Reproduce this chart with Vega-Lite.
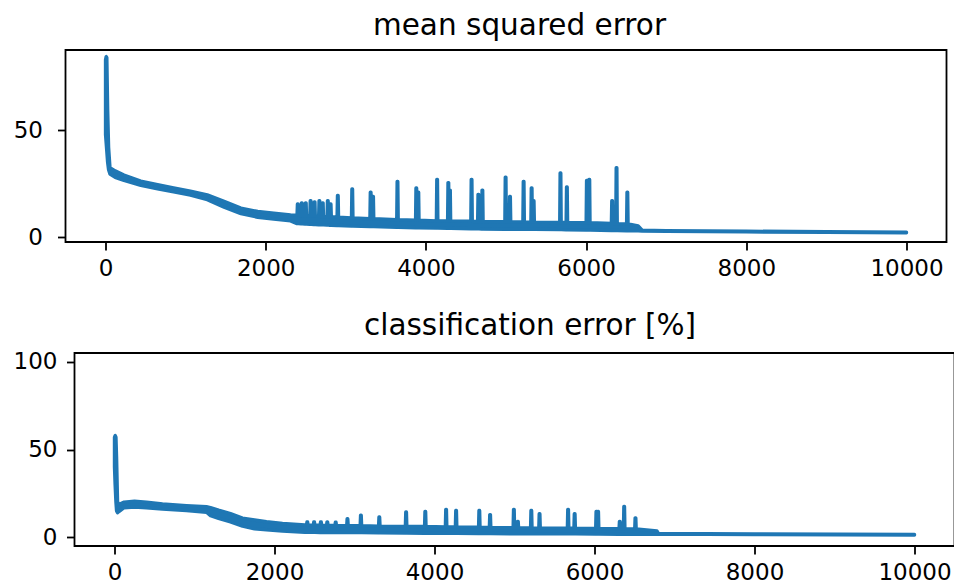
{
"$schema": "https://vega.github.io/schema/vega-lite/v6.json",
"background": "white",
"padding": {"left": 10.5, "top": 9, "right": 0, "bottom": 0},
"spacing": 29,
"config": {
  "view": {"stroke": "#000000", "strokeWidth": 1.8},
  "axis": {"labelFont": "DejaVu Sans", "labelFontSize": 23, "labelColor": "#000000", "tickColor": "#000000", "tickSize": 8, "tickWidth": 1.8, "domain": false, "grid": false, "labelFlush": false, "labelOverlap": false, "labelBound": false, "title": null},
  "title": {"font": "DejaVu Sans", "fontSize": 29.5, "fontWeight": "normal", "color": "#000000", "anchor": "middle", "frame": "group", "baseline": "alphabetic", "offset": 9}
},
"datasets": {
  "mse": [
    {"x":0,"lo":48,"hi":83},{"x":8,"lo":44,"hi":84.5},{"x":16,"lo":40,"hi":84},{"x":26,"lo":35,"hi":60},{"x":38,"lo":31.5,"hi":42},{"x":55,"lo":29.5,"hi":32.5},{"x":120,"lo":28,"hi":31},{"x":230,"lo":26.5,"hi":29},{"x":440,"lo":24.2,"hi":26.2},{"x":650,"lo":22.6,"hi":24.6},{"x":850,"lo":21.2,"hi":23},{"x":1060,"lo":19.7,"hi":21.5},{"x":1270,"lo":17.5,"hi":19.8},{"x":1480,"lo":14,"hi":16.8},{"x":1690,"lo":11,"hi":13.6},{"x":1900,"lo":9.3,"hi":12},{"x":2100,"lo":8.4,"hi":11.2},{"x":2310,"lo":7.6,"hi":10.4},
    {"x":2391,"lo":6.3,"hi":10.2},{"x":2396,"lo":6.3,"hi":15.5},{"x":2404,"lo":6.3,"hi":15.5},{"x":2409,"lo":6.3,"hi":10.2},
    {"x":2441,"lo":6.2,"hi":10.1},{"x":2446,"lo":6.2,"hi":16},{"x":2454,"lo":6.2,"hi":16},{"x":2459,"lo":6.2,"hi":10.1},
    {"x":2491,"lo":6.1,"hi":10},{"x":2496,"lo":6.1,"hi":16},{"x":2504,"lo":6.1,"hi":16},{"x":2509,"lo":6.1,"hi":10},
    {"x":2551,"lo":6,"hi":9.9},{"x":2556,"lo":6,"hi":17},{"x":2564,"lo":6,"hi":17},{"x":2569,"lo":6,"hi":9.9},
    {"x":2601,"lo":5.9,"hi":9.8},{"x":2606,"lo":5.9,"hi":16.5},{"x":2614,"lo":5.9,"hi":16.5},{"x":2619,"lo":5.9,"hi":9.8},
    {"x":2661,"lo":5.8,"hi":9.7},{"x":2666,"lo":5.8,"hi":17},{"x":2674,"lo":5.8,"hi":17},{"x":2679,"lo":5.8,"hi":9.7},
    {"x":2703,"lo":5.7,"hi":9.6},{"x":2708,"lo":5.7,"hi":16},{"x":2716,"lo":5.7,"hi":16},{"x":2721,"lo":5.7,"hi":9.6},
    {"x":2766,"lo":5.6,"hi":9.5},{"x":2771,"lo":5.6,"hi":17},{"x":2779,"lo":5.6,"hi":17},{"x":2784,"lo":5.6,"hi":9.5},
    {"x":2801,"lo":5.5,"hi":9.5},{"x":2806,"lo":5.5,"hi":15.5},{"x":2814,"lo":5.5,"hi":15.5},{"x":2819,"lo":5.5,"hi":9.5},
    {"x":2891,"lo":5.4,"hi":9.3},{"x":2896,"lo":5.4,"hi":19.5},{"x":2904,"lo":5.4,"hi":19.5},{"x":2909,"lo":5.4,"hi":9.3},
    {"x":3071,"lo":5.2,"hi":9},{"x":3076,"lo":5.2,"hi":22.5},{"x":3084,"lo":5.2,"hi":22.5},{"x":3089,"lo":5.2,"hi":9},
    {"x":3301,"lo":4.9,"hi":8.6},{"x":3306,"lo":4.9,"hi":21},{"x":3314,"lo":4.9,"hi":21},{"x":3319,"lo":4.9,"hi":8.6},
    {"x":3331,"lo":4.9,"hi":8.6},{"x":3336,"lo":4.9,"hi":19},{"x":3344,"lo":4.9,"hi":19},{"x":3349,"lo":4.9,"hi":8.6},
    {"x":3636,"lo":4.6,"hi":8.2},{"x":3641,"lo":4.6,"hi":26},{"x":3649,"lo":4.6,"hi":26},{"x":3654,"lo":4.6,"hi":8.2},
    {"x":3871,"lo":4.4,"hi":7.9},{"x":3876,"lo":4.4,"hi":23},{"x":3884,"lo":4.4,"hi":23},{"x":3889,"lo":4.4,"hi":7.9},
    {"x":3896,"lo":4.4,"hi":7.9},{"x":3901,"lo":4.4,"hi":21},{"x":3909,"lo":4.4,"hi":21},{"x":3914,"lo":4.4,"hi":7.9},
    {"x":4131,"lo":4.2,"hi":7.6},{"x":4136,"lo":4.2,"hi":27},{"x":4144,"lo":4.2,"hi":27},{"x":4149,"lo":4.2,"hi":7.6},
    {"x":4271,"lo":4.1,"hi":7.5},{"x":4276,"lo":4.1,"hi":25.5},{"x":4284,"lo":4.1,"hi":25.5},{"x":4289,"lo":4.1,"hi":7.5},
    {"x":4291,"lo":4.1,"hi":7.5},{"x":4296,"lo":4.1,"hi":22},{"x":4304,"lo":4.1,"hi":22},{"x":4309,"lo":4.1,"hi":7.5},
    {"x":4561,"lo":3.9,"hi":7.4},{"x":4566,"lo":3.9,"hi":27},{"x":4574,"lo":3.9,"hi":27},{"x":4579,"lo":3.9,"hi":7.4},
    {"x":4646,"lo":3.9,"hi":7.3},{"x":4651,"lo":3.9,"hi":20},{"x":4659,"lo":3.9,"hi":20},{"x":4664,"lo":3.9,"hi":7.3},
    {"x":4696,"lo":3.8,"hi":7.3},{"x":4701,"lo":3.8,"hi":22},{"x":4709,"lo":3.8,"hi":22},{"x":4714,"lo":3.8,"hi":7.3},
    {"x":4986,"lo":3.7,"hi":7.2},{"x":4991,"lo":3.7,"hi":28},{"x":4999,"lo":3.7,"hi":28},{"x":5004,"lo":3.7,"hi":7.2},
    {"x":5041,"lo":3.7,"hi":7.2},{"x":5046,"lo":3.7,"hi":19},{"x":5054,"lo":3.7,"hi":19},{"x":5059,"lo":3.7,"hi":7.2},
    {"x":5211,"lo":3.6,"hi":7.1},{"x":5216,"lo":3.6,"hi":26},{"x":5224,"lo":3.6,"hi":26},{"x":5229,"lo":3.6,"hi":7.1},
    {"x":5311,"lo":3.6,"hi":7},{"x":5316,"lo":3.6,"hi":23},{"x":5324,"lo":3.6,"hi":23},{"x":5329,"lo":3.6,"hi":7},
    {"x":5336,"lo":3.6,"hi":7},{"x":5341,"lo":3.6,"hi":17},{"x":5349,"lo":3.6,"hi":17},{"x":5354,"lo":3.6,"hi":7},
    {"x":5671,"lo":3.5,"hi":6.8},{"x":5676,"lo":3.5,"hi":30},{"x":5684,"lo":3.5,"hi":30},{"x":5689,"lo":3.5,"hi":6.8},
    {"x":5751,"lo":3.4,"hi":6.8},{"x":5756,"lo":3.4,"hi":23.5},{"x":5764,"lo":3.4,"hi":23.5},{"x":5769,"lo":3.4,"hi":6.8},
    {"x":6001,"lo":3.3,"hi":6.7},{"x":6006,"lo":3.3,"hi":26.5},{"x":6014,"lo":3.3,"hi":26.5},{"x":6019,"lo":3.3,"hi":6.7},
    {"x":6031,"lo":3.3,"hi":6.7},{"x":6036,"lo":3.3,"hi":27},{"x":6044,"lo":3.3,"hi":27},{"x":6049,"lo":3.3,"hi":6.7},
    {"x":6316,"lo":3.1,"hi":6.4},{"x":6321,"lo":3.1,"hi":17},{"x":6329,"lo":3.1,"hi":17},{"x":6334,"lo":3.1,"hi":6.4},
    {"x":6371,"lo":3.1,"hi":6.3},{"x":6376,"lo":3.1,"hi":32.5},{"x":6384,"lo":3.1,"hi":32.5},{"x":6389,"lo":3.1,"hi":6.3},
    {"x":6506,"lo":3.0,"hi":6.2},{"x":6511,"lo":3.0,"hi":21},{"x":6519,"lo":3.0,"hi":21},{"x":6524,"lo":3.0,"hi":6.2},
    {"x":6650,"lo":2.9,"hi":5.2},{"x":6700,"lo":2.8,"hi":3.2},{"x":7000,"lo":2.7,"hi":3.0},{"x":8000,"lo":2.45,"hi":2.75},{"x":9000,"lo":2.2,"hi":2.5},{"x":10000,"lo":2.0,"hi":2.3}
  ],
  "cls": [
    {"x":0,"lo":40,"hi":57},{"x":8,"lo":30,"hi":58},{"x":18,"lo":20,"hi":57},{"x":26,"lo":15,"hi":45},{"x":38,"lo":14,"hi":20},{"x":60,"lo":14.8,"hi":18.8},{"x":120,"lo":16.8,"hi":20},{"x":250,"lo":17.2,"hi":20.5},{"x":400,"lo":16.8,"hi":20},{"x":600,"lo":16,"hi":19},{"x":900,"lo":15.2,"hi":18},{"x":1150,"lo":14.2,"hi":17.4},{"x":1200,"lo":12.3,"hi":16.9},{"x":1300,"lo":10.8,"hi":15.4},{"x":1450,"lo":8.8,"hi":13.4},{"x":1600,"lo":6.3,"hi":10.9},{"x":1750,"lo":4.8,"hi":9.8},{"x":1900,"lo":4.3,"hi":8.8},{"x":2100,"lo":3.5,"hi":7.8},{"x":2380,"lo":2.8,"hi":7},
    {"x":2401,"lo":2.8,"hi":7},{"x":2406,"lo":2.8,"hi":8.7},{"x":2414,"lo":2.8,"hi":8.7},{"x":2419,"lo":2.8,"hi":7},
    {"x":2486,"lo":2.8,"hi":6.9},{"x":2491,"lo":2.8,"hi":8.7},{"x":2499,"lo":2.8,"hi":8.7},{"x":2504,"lo":2.8,"hi":6.9},
    {"x":2571,"lo":2.7,"hi":6.8},{"x":2576,"lo":2.7,"hi":8.7},{"x":2584,"lo":2.7,"hi":8.7},{"x":2589,"lo":2.7,"hi":6.8},
    {"x":2651,"lo":2.7,"hi":6.7},{"x":2656,"lo":2.7,"hi":8.7},{"x":2664,"lo":2.7,"hi":8.7},{"x":2669,"lo":2.7,"hi":6.7},
    {"x":2756,"lo":2.7,"hi":6.7},{"x":2761,"lo":2.7,"hi":8.5},{"x":2769,"lo":2.7,"hi":8.5},{"x":2774,"lo":2.7,"hi":6.7},
    {"x":2903,"lo":2.6,"hi":6.6},{"x":2908,"lo":2.6,"hi":10.5},{"x":2916,"lo":2.6,"hi":10.5},{"x":2921,"lo":2.6,"hi":6.6},
    {"x":3071,"lo":2.6,"hi":6.5},{"x":3076,"lo":2.6,"hi":12.5},{"x":3084,"lo":2.6,"hi":12.5},{"x":3089,"lo":2.6,"hi":6.5},
    {"x":3301,"lo":2.5,"hi":6.3},{"x":3306,"lo":2.5,"hi":11.5},{"x":3314,"lo":2.5,"hi":11.5},{"x":3319,"lo":2.5,"hi":6.3},
    {"x":3636,"lo":2.4,"hi":6.2},{"x":3641,"lo":2.4,"hi":14.4},{"x":3649,"lo":2.4,"hi":14.4},{"x":3654,"lo":2.4,"hi":6.2},
    {"x":3876,"lo":2.3,"hi":6.1},{"x":3881,"lo":2.3,"hi":14.7},{"x":3889,"lo":2.3,"hi":14.7},{"x":3894,"lo":2.3,"hi":6.1},
    {"x":4136,"lo":2.3,"hi":5.9},{"x":4141,"lo":2.3,"hi":15.8},{"x":4149,"lo":2.3,"hi":15.8},{"x":4154,"lo":2.3,"hi":5.9},
    {"x":4261,"lo":2.2,"hi":5.8},{"x":4266,"lo":2.2,"hi":15.2},{"x":4274,"lo":2.2,"hi":15.2},{"x":4279,"lo":2.2,"hi":5.8},
    {"x":4551,"lo":2.1,"hi":5.7},{"x":4556,"lo":2.1,"hi":15.2},{"x":4564,"lo":2.1,"hi":15.2},{"x":4569,"lo":2.1,"hi":5.7},
    {"x":4686,"lo":2.1,"hi":5.6},{"x":4691,"lo":2.1,"hi":12.9},{"x":4699,"lo":2.1,"hi":12.9},{"x":4704,"lo":2.1,"hi":5.6},
    {"x":4983,"lo":2.0,"hi":5.4},{"x":4988,"lo":2.0,"hi":15.8},{"x":4996,"lo":2.0,"hi":15.8},{"x":5001,"lo":2.0,"hi":5.4},
    {"x":5033,"lo":2.0,"hi":5.4},{"x":5038,"lo":2.0,"hi":9},{"x":5046,"lo":2.0,"hi":9},{"x":5051,"lo":2.0,"hi":5.4},
    {"x":5201,"lo":2.0,"hi":5.3},{"x":5206,"lo":2.0,"hi":15.2},{"x":5214,"lo":2.0,"hi":15.2},{"x":5219,"lo":2.0,"hi":5.3},
    {"x":5304,"lo":1.9,"hi":5.2},{"x":5309,"lo":1.9,"hi":13.4},{"x":5317,"lo":1.9,"hi":13.4},{"x":5322,"lo":1.9,"hi":5.2},
    {"x":5661,"lo":1.9,"hi":5.1},{"x":5666,"lo":1.9,"hi":15.8},{"x":5674,"lo":1.9,"hi":15.8},{"x":5679,"lo":1.9,"hi":5.1},
    {"x":5743,"lo":1.9,"hi":5.1},{"x":5748,"lo":1.9,"hi":13.4},{"x":5756,"lo":1.9,"hi":13.4},{"x":5761,"lo":1.9,"hi":5.1},
    {"x":6015,"lo":1.8,"hi":5},{"x":6020,"lo":1.8,"hi":14.7},{"x":6028,"lo":1.8,"hi":14.7},{"x":6033,"lo":1.8,"hi":5},
    {"x":6036,"lo":1.8,"hi":5},{"x":6041,"lo":1.8,"hi":14.7},{"x":6049,"lo":1.8,"hi":14.7},{"x":6054,"lo":1.8,"hi":5},
    {"x":6307,"lo":1.7,"hi":4.8},{"x":6312,"lo":1.7,"hi":9},{"x":6320,"lo":1.7,"hi":9},{"x":6325,"lo":1.7,"hi":4.8},
    {"x":6362,"lo":1.7,"hi":4.8},{"x":6367,"lo":1.7,"hi":17.5},{"x":6375,"lo":1.7,"hi":17.5},{"x":6380,"lo":1.7,"hi":4.8},
    {"x":6503,"lo":1.6,"hi":4.7},{"x":6508,"lo":1.6,"hi":11},{"x":6516,"lo":1.6,"hi":11},{"x":6521,"lo":1.6,"hi":4.7},
    {"x":6780,"lo":1.6,"hi":3.6},{"x":6800,"lo":1.75,"hi":2.1},{"x":8000,"lo":1.55,"hi":1.9},{"x":10000,"lo":1.3,"hi":1.6}
  ]
},
"vconcat": [
  {"spacing": 0, "hconcat": [
  {"width": 1, "height": 1, "data": {"values": []}, "mark": {"type": "point", "opacity": 0}, "view": {"stroke": null}},
  {
    "width": 881, "height": 192,
    "title": {"text": "mean squared error", "dx": 13.5},
    "data": {"name": "mse"},
    "mark": {"type": "area", "color": "#1f77b4", "stroke": "#1f77b4", "strokeWidth": 3.4, "strokeJoin": "round", "fillOpacity": 1},
    "encoding": {
      "x": {"field": "x", "type": "quantitative", "scale": {"domain": [-500, 10500], "nice": false, "zero": false}, "axis": {"values": [0, 2000, 4000, 6000, 8000, 10000], "format": "d", "labelPadding": 7}},
      "y": {"field": "lo", "type": "quantitative", "scale": {"domain": [-2.3, 87.6], "nice": false, "zero": false}, "axis": {"values": [0, 50], "labelPadding": 15}},
      "y2": {"field": "hi"}
    }
  }]},
  {"spacing": 0, "hconcat": [
  {"width": 1, "height": 1, "data": {"values": []}, "mark": {"type": "point", "opacity": 0}, "view": {"stroke": null}},
  {
    "width": 880, "height": 193,
    "title": {"text": "classification error [%]", "dx": 15.5},
    "data": {"name": "cls"},
    "mark": {"type": "area", "color": "#1f77b4", "stroke": "#1f77b4", "strokeWidth": 3.4, "strokeJoin": "round", "fillOpacity": 1},
    "encoding": {
      "x": {"field": "x", "type": "quantitative", "scale": {"domain": [-500, 10500], "nice": false, "zero": false}, "axis": {"values": [0, 2000, 4000, 6000, 8000, 10000], "format": "d", "labelPadding": 7}},
      "y": {"field": "lo", "type": "quantitative", "scale": {"domain": [-5, 105], "nice": false, "zero": false}, "axis": {"values": [0, 50, 100], "labelPadding": 9.5}},
      "y2": {"field": "hi"}
    }
  }]}
]
}
